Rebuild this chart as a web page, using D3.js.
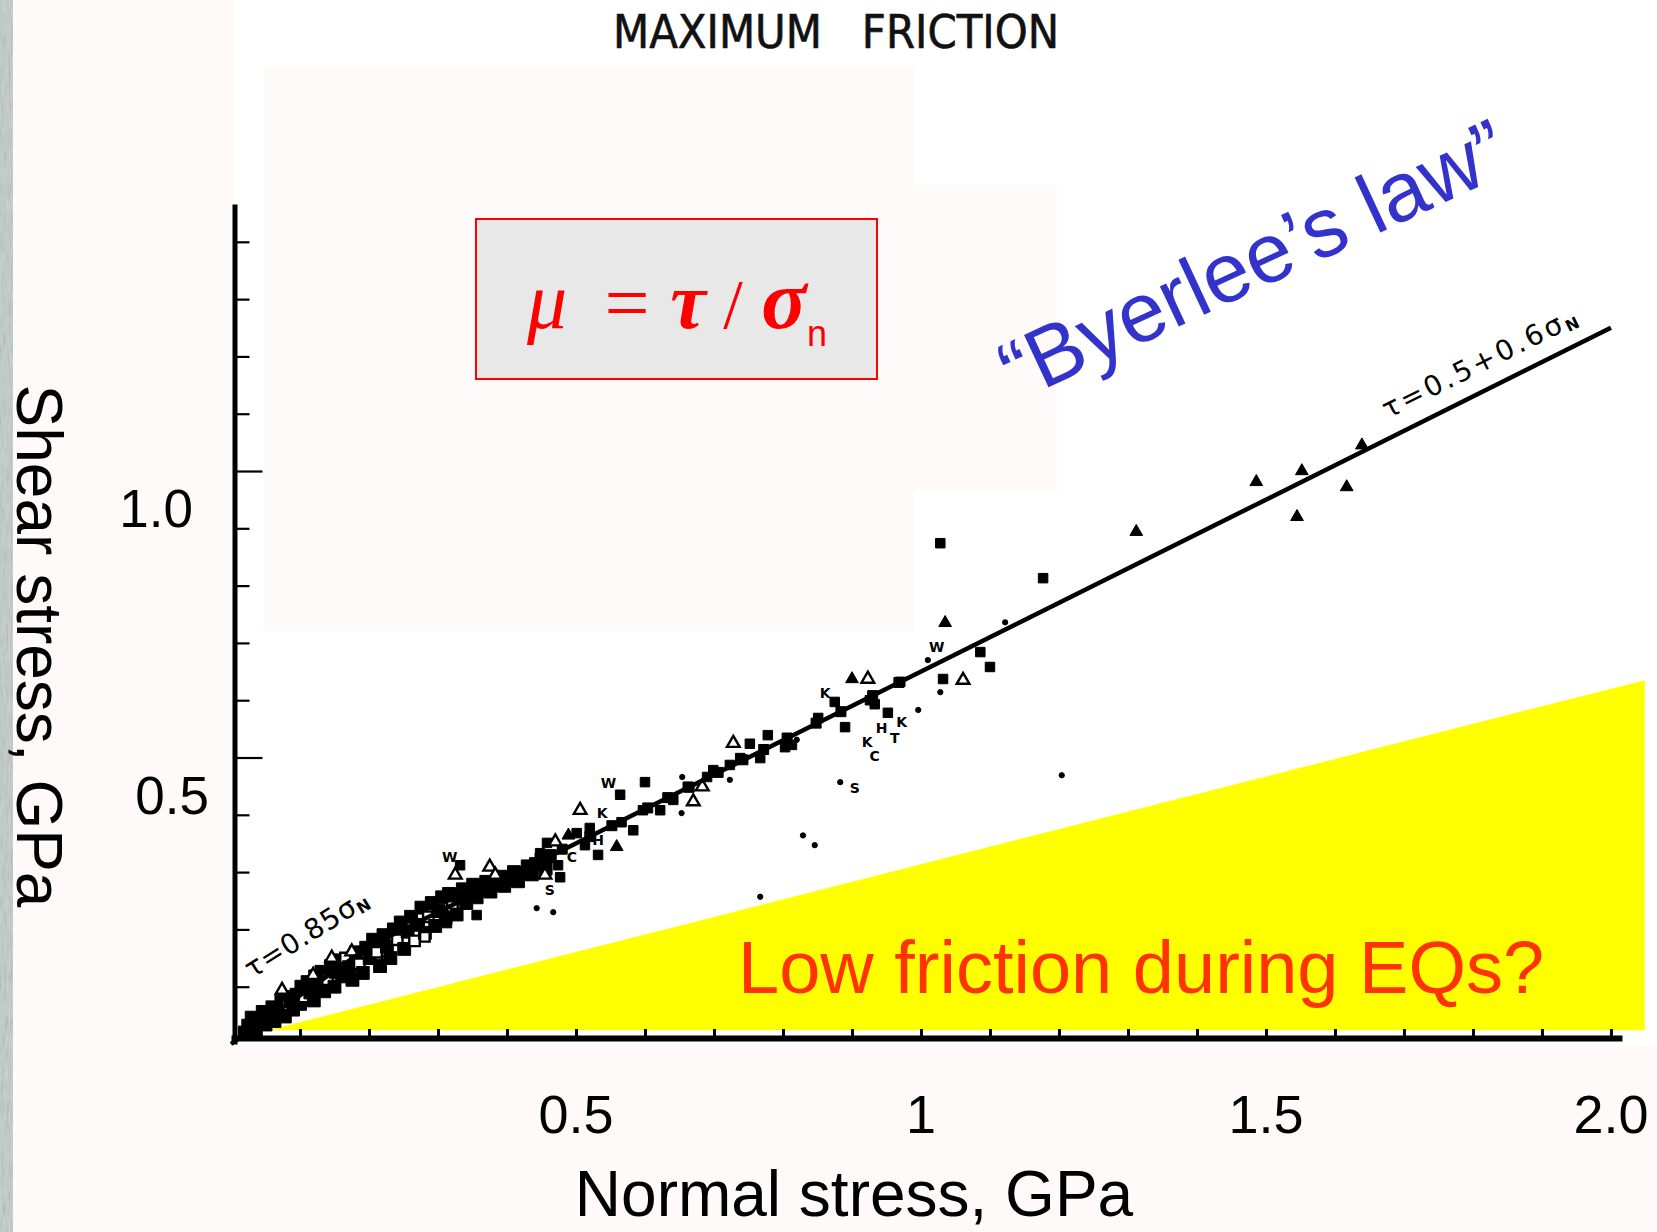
<!DOCTYPE html>
<html>
<head>
<meta charset="utf-8">
<script src="https://cdn.jsdelivr.net/npm/d3@7"></script>
<style>
  html, body { margin: 0; padding: 0; background: #fffafa; }
  svg { display: block; }
</style>
</head>
<body>
<svg id="chart" width="1657" height="1232"></svg>
<script>
// ---- data (normal stress σ and shear stress τ, GPa) ----
const xTickValues = [0.1,0.2,0.3,0.4,0.5,0.6,0.7,0.8,0.9,1.0,1.1,1.2,1.3,1.4,1.5,1.6,1.7,1.8,1.9,2.0];
const yTickValues = [0.1,0.2,0.3,0.4,0.5,0.6,0.7,0.8,0.9,1.0,1.1,1.2,1.3,1.4];
const yMajorTicks = [0.5, 1.0];
const xLabelValues = [0.5, 1.0, 1.5, 2.0];
const xLabelText = ["0.5", "1", "1.5", "2.0"];
const yLabelValues = [0.5, 1.0];
const yLabelText = ["0.5", "1.0"];

// Byerlee's law: τ = 0.85σ below 0.2 GPa, τ = 0.05 + 0.6σ above
const byerleeLine = [[0, 0], [0.2, 0.17], [2.0, 1.25]];

// region of low friction sketched below the law
const lowFrictionRegion = [[0.054, 0.024], [2.049, 0.635], [2.049, 0.024]];

// dense cluster of experiments at low normal stress
const denseBand = [
  [0.020,0.020,'sq'],[0.025,0.032,'sq'],[0.030,0.046,'sq'],[0.036,0.024,'sq'],[0.040,0.040,'sq'],
  [0.046,0.056,'sq'],[0.050,0.034,'sq'],[0.055,0.050,'sq'],[0.060,0.064,'sq'],[0.063,0.040,'sq'],
  [0.070,0.056,'sq'],[0.073,0.074,'sq'],[0.078,0.048,'sq'],[0.082,0.068,'osq'],[0.086,0.082,'sq'],
  [0.090,0.060,'sq'],[0.095,0.086,'sq'],[0.100,0.070,'sq'],[0.102,0.100,'sq'],[0.106,0.082,'osq'],
  [0.111,0.108,'sq'],[0.115,0.090,'sq'],[0.120,0.076,'sq'],[0.122,0.118,'sq'],[0.126,0.100,'sq'],
  [0.131,0.126,'sq'],[0.135,0.092,'sq'],[0.140,0.112,'osq'],[0.145,0.136,'sq'],[0.150,0.100,'sq'],
  [0.152,0.126,'sq'],[0.156,0.146,'sq'],[0.161,0.118,'sq'],[0.166,0.150,'osq'],[0.171,0.134,'sq'],
  [0.176,0.112,'sq'],[0.181,0.160,'sq'],[0.186,0.140,'osq'],[0.191,0.124,'sq'],[0.196,0.168,'sq'],
  [0.201,0.150,'sq'],[0.206,0.182,'sq'],[0.211,0.160,'osq'],[0.216,0.136,'sq'],[0.221,0.190,'sq'],
  [0.226,0.170,'sq'],[0.231,0.150,'sq'],[0.236,0.200,'sq'],[0.241,0.182,'osq'],[0.246,0.212,'sq'],
  [0.251,0.166,'sq'],[0.256,0.196,'sq'],[0.261,0.222,'sq'],[0.266,0.180,'osq'],[0.271,0.208,'sq'],
  [0.276,0.238,'sq'],[0.281,0.194,'sq'],[0.286,0.222,'osq'],[0.291,0.246,'sq'],[0.296,0.206,'sq'],
  [0.301,0.232,'sq'],[0.306,0.256,'sq'],[0.311,0.220,'sq'],[0.316,0.262,'sq'],[0.321,0.240,'osq'],
  [0.327,0.226,'sq'],[0.331,0.254,'sq'],[0.336,0.270,'sq'],[0.341,0.246,'sq'],[0.346,0.262,'sq'],
  [0.351,0.278,'sq'],[0.356,0.256,'sq'],[0.362,0.268,'sq'],[0.370,0.283,'sq'],[0.376,0.266,'sq'],
  [0.382,0.278,'sq'],[0.390,0.292,'sq'],[0.396,0.276,'sq'],[0.402,0.288,'sq'],[0.410,0.300,'sq'],
  [0.416,0.284,'sq'],[0.422,0.298,'sq'],[0.430,0.310,'sq'],[0.436,0.296,'sq'],[0.442,0.314,'sq'],
  [0.450,0.322,'sq'],[0.456,0.306,'sq'],[0.462,0.328,'sq']
];

// experiments lying along the law at higher stress
const onLaw = [
  [0.480,0.340,'sq'],[0.520,0.362,'sq'],[0.552,0.381,'sq'],[0.604,0.412,'sq'],[0.633,0.430,'sq'],
  [0.664,0.448,'sq'],[0.706,0.474,'sq'],[0.742,0.496,'sq'],[0.772,0.514,'sq'],[0.806,0.534,'sq'],
  [0.848,0.560,'sq'],[0.884,0.580,'sq'],[0.930,0.608,'sq'],[0.968,0.631,'sq']
];

// individual experiments (symbol or rock-type letter)
const scattered = [
  [0.074,0.094,'otri'],[0.119,0.120,'otri'],[0.146,0.150,'otri'],[0.175,0.161,'otri'],[0.223,0.147,'S'],
  [0.281,0.187,'osq'],[0.298,0.234,'sq'],[0.313,0.211,'sq'],[0.356,0.225,'sq'],[0.317,0.326,'W'],
  [0.332,0.312,'sq'],[0.325,0.295,'otri'],[0.375,0.309,'otri'],[0.383,0.295,'otri'],[0.409,0.290,'sq'],
  [0.443,0.237,'dot'],[0.467,0.230,'dot'],[0.458,0.351,'sq'],[0.470,0.353,'otri'],[0.448,0.333,'sq'],
  [0.494,0.326,'C'],[0.474,0.312,'sq'],[0.477,0.291,'sq'],[0.455,0.295,'otri'],[0.462,0.269,'S'],
  [0.412,0.286,'sq'],[0.506,0.408,'otri'],[0.538,0.403,'K'],[0.547,0.456,'W'],[0.564,0.435,'sq'],
  [0.600,0.457,'sq'],[0.566,0.387,'sq'],[0.583,0.373,'sq'],[0.520,0.377,'sq'],[0.501,0.368,'sq'],
  [0.489,0.364,'tri'],[0.532,0.356,'H'],[0.513,0.347,'sq'],[0.559,0.344,'tri'],[0.532,0.330,'sq'],
  [0.597,0.408,'sq'],[0.622,0.408,'sq'],[0.654,0.466,'dot'],[0.690,0.466,'sq'],[0.683,0.449,'otri'],
  [0.662,0.449,'sq'],[0.641,0.426,'sq'],[0.670,0.423,'otri'],[0.653,0.403,'dot'],[0.723,0.487,'sq'],
  [0.699,0.478,'sq'],[0.723,0.461,'dot'],[0.728,0.525,'otri'],[0.752,0.524,'sq'],[0.767,0.499,'sq'],
  [0.738,0.499,'sq'],[0.778,0.539,'sq'],[0.803,0.518,'sq'],[0.813,0.522,'sq'],[0.820,0.531,'dot'],
  [0.851,0.569,'sq'],[0.861,0.613,'K'],[0.875,0.597,'sq'],[0.926,0.600,'sq'],[0.933,0.593,'sq'],
  [0.952,0.578,'sq'],[0.972,0.562,'K'],[0.996,0.583,'dot'],[0.890,0.553,'sq'],[0.943,0.552,'H'],
  [0.962,0.534,'T'],[0.922,0.527,'K'],[0.933,0.502,'C'],[0.900,0.637,'tri'],[0.923,0.637,'otri'],
  [0.970,0.632,'sq'],[1.032,0.637,'sq'],[1.061,0.635,'otri'],[1.028,0.614,'dot'],[1.035,0.735,'tri'],
  [1.023,0.693,'W'],[1.010,0.670,'dot'],[1.086,0.684,'sq'],[1.100,0.658,'sq'],[1.122,0.736,'dot'],
  [1.028,0.874,'sq'],[1.177,0.813,'sq'],[1.312,0.894,'tri'],[1.486,0.981,'tri'],[1.552,1.000,'tri'],
  [1.617,0.972,'tri'],[1.545,0.920,'tri'],[1.639,1.045,'tri'],[0.846,0.347,'dot'],[0.829,0.364,'dot'],
  [0.883,0.457,'dot'],[0.904,0.447,'S'],[0.767,0.257,'dot'],[1.204,0.469,'dot']
];

// ---- layout ----
const svg = d3.select("#chart");
const x = d3.scaleLinear().domain([0, 2.016]).range([231, 1622]);
const y = d3.scaleLinear().domain([0, 1.466]).range([1044, 204]);

const defs = svg.append("defs");
const grain = defs.append("filter").attr("id", "grain").attr("x", 0).attr("y", 0).attr("width", 1).attr("height", 1);
grain.append("feTurbulence").attr("type", "fractalNoise").attr("baseFrequency", "0.45 0.06").attr("numOctaves", 2).attr("seed", 7);
grain.append("feColorMatrix").attr("type", "saturate").attr("values", 0);

// page and scanned-sheet backgrounds
svg.append("rect").attr("width", 1657).attr("height", 1232).attr("fill", "#fffafa");
svg.append("rect").attr("x", 0).attr("y", 0).attr("width", 13).attr("height", 1232).attr("fill", "#c3cccc");
svg.append("rect").attr("x", 0).attr("y", 0).attr("width", 13).attr("height", 1232)
   .attr("filter", "url(#grain)").attr("opacity", 0.45);
svg.append("rect").attr("x", 234).attr("y", 0).attr("width", 1423).attr("height", 1046).attr("fill", "#ffffff");
svg.append("rect").attr("x", 264).attr("y", 66).attr("width", 650).attr("height", 565).attr("fill", "#fffafa");
svg.append("rect").attr("x", 914).attr("y", 185).attr("width", 143).attr("height", 306).attr("fill", "#fffafa");

// title
svg.append("text")
  .attr("x", 613).attr("y", 48)
  .attr("textLength", 446).attr("lengthAdjust", "spacingAndGlyphs")
  .attr("font-family", "'Liberation Sans Narrow', 'DejaVu Sans Condensed', 'Liberation Sans', sans-serif")
  .attr("font-size", 46).attr("fill", "#111").attr("stroke", "#111").attr("stroke-width", 0.6)
  .attr("xml:space", "preserve")
  .text("MAXIMUM   FRICTION");

// low-friction wedge
svg.append("path")
  .attr("d", d3.line().x(d => x(d[0])).y(d => y(d[1]))(lowFrictionRegion) + "Z")
  .attr("fill", "#ffff00");

// experiments
const shapes = { sq: d3.symbolSquare, osq: d3.symbolSquare, tri: d3.symbolTriangle, otri: d3.symbolTriangle, dot: d3.symbolCircle };
function drawPoints(data, cls, sizes) {
  const g = svg.append("g").attr("class", cls);
  const sym = data.filter(d => shapes[d[2]]);
  g.selectAll("path").data(sym).join("path")
    .attr("transform", d => `translate(${x(d[0])},${y(d[1])})`)
    .attr("d", d => d3.symbol().type(shapes[d[2]]).size(sizes[d[2]])())
    .attr("fill", d => (d[2] === 'osq' || d[2] === 'otri') ? "#fff" : "#000")
    .attr("stroke", "#000")
    .attr("stroke-width", d => (d[2] === 'osq' || d[2] === 'otri') ? 2.4 : 1);
  const letters = data.filter(d => !shapes[d[2]]);
  g.selectAll("text").data(letters).join("text")
    .attr("x", d => x(d[0])).attr("y", d => y(d[1]) + 5)
    .attr("text-anchor", "middle")
    .attr("font-family", "'DejaVu Sans', sans-serif").attr("font-weight", "bold")
    .attr("font-size", 14).attr("fill", "#000")
    .text(d => d[2]);
}
drawPoints(denseBand, "dense", { sq: 165, osq: 110 });
drawPoints(onLaw, "on-law", { sq: 100 });
drawPoints(scattered, "scattered", { sq: 90, osq: 90, tri: 70, otri: 70, dot: 22 });

// Byerlee's law
svg.append("path")
  .attr("d", d3.line().x(d => x(d[0])).y(d => y(d[1]))(byerleeLine))
  .attr("fill", "none").attr("stroke", "#000").attr("stroke-width", 4.5);

// axes
const xAxis = svg.append("g").attr("transform", "translate(0,1038)")
  .call(d3.axisBottom(x).tickValues(xTickValues).tickSize(-8).tickSizeOuter(0).tickFormat(""));
xAxis.select(".domain").attr("stroke", "#000").attr("stroke-width", 6);
xAxis.selectAll(".tick line").attr("stroke", "#000").attr("stroke-width", 3).attr("y2", -9);

const yAxis = svg.append("g").attr("transform", "translate(234.5,0)")
  .call(d3.axisRight(y).tickValues(yTickValues).tickSize(15).tickSizeOuter(0).tickFormat(""));
yAxis.select(".domain").attr("stroke", "#000").attr("stroke-width", 5);
yAxis.selectAll(".tick line").attr("stroke", "#000").attr("stroke-width", 2.2)
  .attr("x2", d => yMajorTicks.includes(d) ? 28 : 15);

// tick labels
svg.append("g").selectAll("text").data(xLabelValues).join("text")
  .attr("x", d => x(d)).attr("y", 1133)
  .attr("text-anchor", "middle")
  .attr("font-family", "'Liberation Sans', Arial, sans-serif").attr("font-size", 54).attr("fill", "#000")
  .text((d, i) => xLabelText[i]);
svg.append("g").selectAll("text").data(yLabelValues).join("text")
  .attr("x", d => d === 1.0 ? 193 : 209).attr("y", d => y(d) + 56)
  .attr("text-anchor", "end")
  .attr("font-family", "'Liberation Sans', Arial, sans-serif").attr("font-size", 53).attr("fill", "#000")
  .text((d, i) => yLabelText[i]);

// axis titles
svg.append("text")
  .attr("x", 854).attr("y", 1216).attr("text-anchor", "middle")
  .attr("font-family", "'Liberation Sans', Arial, sans-serif").attr("font-size", 64).attr("fill", "#000")
  .text("Normal stress, GPa");
svg.append("text")
  .attr("transform", "translate(17,646) rotate(90)").attr("text-anchor", "middle")
  .attr("font-family", "'Liberation Sans', Arial, sans-serif").attr("font-size", 64).attr("fill", "#000")
  .text("Shear stress, GPa");

// law labels along the lines
const lawFont = "'DejaVu Sans', 'Liberation Sans', sans-serif";
const low = svg.append("text")
  .attr("transform", "translate(252,979) rotate(-32)")
  .attr("font-family", lawFont).attr("font-size", 28).attr("fill", "#000")
  .attr("textLength", 140).attr("lengthAdjust", "spacing");
low.append("tspan").text("τ=0.85σ");
low.append("tspan").attr("font-size", 16).attr("font-weight", "bold").attr("dy", 3).text("N");
const high = svg.append("text")
  .attr("transform", "translate(1388,419) rotate(-26.5)")
  .attr("font-family", lawFont).attr("font-size", 28).attr("fill", "#000")
  .attr("textLength", 214).attr("lengthAdjust", "spacing");
high.append("tspan").text("τ=0.5+0.6σ");
high.append("tspan").attr("font-size", 16).attr("font-weight", "bold").attr("dy", 3).text("N");

// friction coefficient definition box
svg.append("rect").attr("x", 476).attr("y", 219).attr("width", 401).attr("height", 160)
  .attr("fill", "#e8e8e8").attr("stroke", "#ff0000").attr("stroke-width", 2);
const serif = "'Liberation Serif', 'Times New Roman', serif";
const formula = svg.append("g").attr("fill", "#ff0000");
formula.append("text").attr("x", 547).attr("y", 328).attr("text-anchor", "middle")
  .attr("font-family", serif).attr("font-style", "italic").attr("font-size", 80).text("μ");
formula.append("text").attr("x", 627).attr("y", 330).attr("text-anchor", "middle")
  .attr("font-family", serif).attr("font-size", 80).text("=");
formula.append("text").attr("x", 688).attr("y", 328).attr("text-anchor", "middle")
  .attr("font-family", serif).attr("font-style", "italic").attr("font-weight", "bold").attr("font-size", 80).text("τ");
formula.append("text").attr("x", 733).attr("y", 328).attr("text-anchor", "middle")
  .attr("font-family", serif).attr("font-size", 70).text("/");
formula.append("text").attr("x", 784).attr("y", 328).attr("text-anchor", "middle")
  .attr("font-family", serif).attr("font-style", "italic").attr("font-weight", "bold").attr("font-size", 84).text("σ");
formula.append("text").attr("x", 817).attr("y", 346).attr("text-anchor", "middle")
  .attr("font-family", "'Liberation Sans', Arial, sans-serif").attr("font-size", 36).text("n");

// annotations
svg.append("text")
  .attr("transform", "translate(1017,402) rotate(-25)")
  .attr("font-family", "'Liberation Sans', Arial, sans-serif").attr("font-size", 84).attr("fill", "#3333cc")
  .text("“Byerlee’s law”");
svg.append("text")
  .attr("x", 738).attr("y", 993)
  .attr("font-family", "'Liberation Sans', Arial, sans-serif").attr("font-size", 74).attr("fill", "#ff3300")
  .text("Low friction during EQs?");
</script>
</body>
</html>
